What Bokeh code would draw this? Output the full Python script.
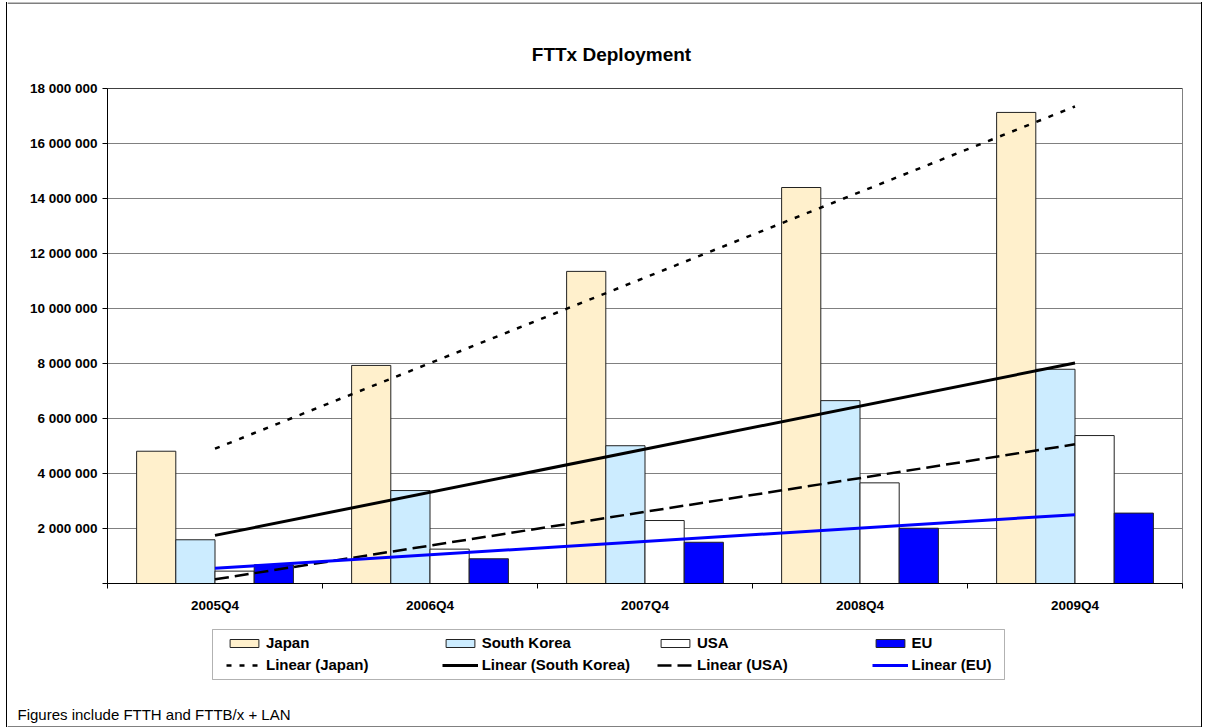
import numpy as np
from bokeh.plotting import figure
from bokeh.models import (ColumnDataSource, Range1d, FixedTicker, Legend, LegendItem,
                          Label, Span, BoxAnnotation, Column, Row, Spacer)
from bokeh.transform import dodge
from bokeh.embed import file_html
from bokeh.resources import INLINE

# ---------------- data ----------------
quarters = ["2005Q4", "2006Q4", "2007Q4", "2008Q4", "2009Q4"]
japan = [4.81e6, 7.93e6, 11.35e6, 14.40e6, 17.13e6]
south_korea = [1.59e6, 3.38e6, 5.01e6, 6.65e6, 7.79e6]
usa = [0.45e6, 1.25e6, 2.29e6, 3.66e6, 5.38e6]
eu = [0.68e6, 0.90e6, 1.50e6, 2.01e6, 2.56e6]
y_ticks = [0, 2000000, 4000000, 6000000, 8000000, 10000000,
           12000000, 14000000, 16000000, 18000000]
series_names = ["Japan", "South Korea", "USA", "EU"]

title_text = "FTTx Deployment"
footnote_text = "Figures include FTTH and FTTB/x + LAN"

# ---------------- styles ----------------
FONT = "Liberation Sans"
JAPAN_C = "#FFF0CC"
SK_C = "#CCECFF"
USA_C = "#FFFFFF"
EU_C = "#0000FF"
BAR_LINE = "#222222"
W = 1194          # inner width (between the 1px outer border lines)
X0 = 7            # page x of the inner area

centers = [i + 0.5 for i in range(len(quarters))]
bw = 0.1823

src = ColumnDataSource(dict(xc=centers, japan=japan, sk=south_korea, usa=usa, eu=eu))

# ---------- title strip ----------
pt = figure(width=W, height=76, output_backend="svg", toolbar_location=None,
            x_range=Range1d(X0, X0 + W), y_range=Range1d(78, 2),
            x_axis_type=None, y_axis_type=None, min_border=0, frame_align=False)
pt.title.visible = False
pt.outline_line_color = None
pt.add_layout(Span(location=2.5, dimension="width", line_color="black", line_width=1))
pt.add_layout(Label(x=611, y=54, text=title_text, text_font=FONT,
                    text_font_style="bold", text_font_size="19px",
                    text_align="center", text_baseline="alphabetic", text_color="black"))

# ---------- main chart ----------
p = figure(width=W, height=547, output_backend="svg", toolbar_location=None,
           x_range=Range1d(0, len(quarters)), y_range=Range1d(0, y_ticks[-1]),
           min_border_left=100, min_border_right=19, min_border_top=10,
           min_border_bottom=42, frame_align=False)
p.title.visible = False
p.background_fill_color = "white"
p.border_fill_color = "white"
p.outline_line_color = "#808080"
p.outline_line_width = 1

xa = p.xaxis[0]
xa.ticker = FixedTicker(ticks=centers, minor_ticks=list(range(len(quarters) + 1)))
xa.major_label_overrides = {c: q for c, q in zip(centers, quarters)}
xa.major_tick_out = 0
xa.major_tick_in = 0
xa.minor_tick_out = 5
xa.minor_tick_in = 0
xa.minor_tick_line_color = "black"
xa.axis_line_color = "black"
xa.major_label_text_font = FONT
xa.major_label_text_font_style = "bold"
xa.major_label_text_font_size = "13.5px"
xa.major_label_text_color = "black"
xa.major_label_standoff = 9

ya = p.yaxis[0]
ya.ticker = FixedTicker(ticks=y_ticks, minor_ticks=[])
ya.major_label_overrides = {t: ("" if t == 0 else f"{t:,}".replace(",", " ")) for t in y_ticks}
ya.major_tick_out = 5
ya.major_tick_in = 0
ya.major_tick_line_color = "black"
ya.axis_line_color = "black"
ya.major_label_text_font = FONT
ya.major_label_text_font_style = "bold"
ya.major_label_text_font_size = "13.5px"
ya.major_label_text_color = "black"
ya.major_label_standoff = 5

p.xgrid.visible = False
p.ygrid.grid_line_color = "#808080"
p.ygrid.grid_line_width = 1

offs = [-1.5 * bw, -0.5 * bw, 0.5 * bw, 1.5 * bw]
bar_cols = ["japan", "sk", "usa", "eu"]
bar_fills = [JAPAN_C, SK_C, USA_C, EU_C]
for off, col, fc in zip(offs, bar_cols, bar_fills):
    p.vbar(x=dodge("xc", off), top=col, width=bw, source=src,
           fill_color=fc, line_color=BAR_LINE, line_width=1)

p.add_layout(Span(location=y_ticks[-1], dimension="width", line_color="black", line_width=1))

trend_styles = [
    dict(line_color="black", line_width=2.5, line_dash="5 8"),
    dict(line_color="black", line_width=3),
    dict(line_color="black", line_width=2.5, line_dash="14 6"),
    dict(line_color=EU_C, line_width=3),
]

def trend(vals):
    coef = np.polyfit(centers, vals, 1)
    xs = [centers[0], centers[-1]]
    return xs, list(np.polyval(coef, xs))

for vals, st in zip([japan, south_korea, usa, eu], trend_styles):
    xs, ys = trend(vals)
    p.line(xs, ys, **st)

# ---------- legend + footnote strip ----------
pb = figure(width=W, height=102, output_backend="svg", toolbar_location=None,
            x_range=Range1d(X0, X0 + W), y_range=Range1d(727, 625),
            x_axis_type=None, y_axis_type=None, min_border=0, frame_align=False)
pb.title.visible = False
pb.outline_line_color = None
pb.add_layout(Span(location=726.5, dimension="width", line_color="black", line_width=1))

pb.add_layout(BoxAnnotation(left=212, right=1004, top=629, bottom=679,
                            fill_color="white", fill_alpha=1,
                            line_color="black", line_width=1))

nan = float("nan")
leg_x = [219, 434.7, 650, 864.5]
for name, fc, st, lx in zip(series_names, bar_fills, trend_styles, leg_x):
    # legend-only renderers (no visible mark: NaN data)
    rb = pb.vbar(x=[nan], top=[nan], width=1, fill_color=fc, line_color=BAR_LINE, line_width=1)
    rl = pb.line(x=[nan, nan], y=[nan, nan], **st)
    leg = Legend(items=[LegendItem(label=name, renderers=[rb]),
                        LegendItem(label=f"Linear ({name})", renderers=[rl])],
                 location=(lx, 52.3), orientation="vertical",
                 border_line_color=None, background_fill_alpha=0,
                 padding=0, margin=0, spacing=2,
                 glyph_width=36, glyph_height=10, label_height=20,
                 label_standoff=4, label_text_font=FONT,
                 label_text_font_style="bold", label_text_font_size="15px",
                 label_text_color="black")
    pb.add_layout(leg)

pb.add_layout(Label(x=17, y=714, text=footnote_text, text_font=FONT,
                    text_font_size="15px", text_align="left",
                    text_baseline="alphabetic", text_color="black"))

inner = Column(children=[pt, p, pb], spacing=0, width=W, height=725)
left_edge = Spacer(width=1, height=725, styles={"background-color": "black"})
right_edge = Spacer(width=1, height=725, styles={"background-color": "black"})
layout = Row(children=[left_edge, inner, right_edge], spacing=0,
             width=W + 2, height=725, margin=(2, 0, 0, 6))

open("out.html", "w").write(file_html(layout, INLINE))
